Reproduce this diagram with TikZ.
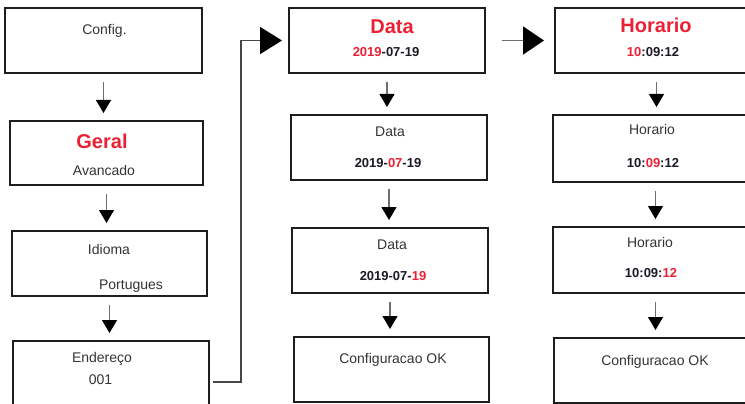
\documentclass[tikz,border=0pt]{standalone}
\usepackage{fontspec}
\setmainfont{Liberation Sans}
\usetikzlibrary{arrows.meta, calc}
\definecolor{cRed}{RGB}{236, 32, 52}
\definecolor{bBox}{RGB}{30, 30, 30}
\definecolor{tDark}{RGB}{51, 51, 51}
\definecolor{tNum}{RGB}{26, 26, 36}
\definecolor{lShaft}{RGB}{110, 110, 110}
\definecolor{lLink}{RGB}{70, 70, 70}
\newcommand{\hi}[1]{\textcolor{cRed}{#1}}

\begin{document}
\begin{tikzpicture}[
    x=1pt, y=-1pt,
    box/.style={
        draw=bBox,
        line width=2pt,
        inner sep=0pt
    },
    lbl/.style={anchor=base, inner sep=0pt, text=tDark, font=\fontsize{14}{16}\selectfont},
    num/.style={anchor=base, inner sep=0pt, text=tNum, font=\fontsize{13}{15}\selectfont\bfseries},
    head/.style={anchor=base, inner sep=0pt, text=cRed, font=\fontsize{20}{24}\selectfont\bfseries},
    down/.style={
        -{Triangle[length=13pt, width=15pt, color=black, fill=black]},
        line width=1.1pt, color=lShaft,
        shorten <=8pt, shorten >=7pt
    },
    link/.style={line width=1.6pt, color=lLink}
]

\clip (0,0) rectangle (745,404);

% left column
\node[box, minimum width=197pt, minimum height=65pt] (cfg) at (103.5,40.5) {};
\node[box, minimum width=193pt, minimum height=64pt] (geral) at (106.5,153) {};
\node[box, minimum width=195pt, minimum height=65pt] (idioma) at (109.5,263.5) {};
\node[box, minimum width=196pt, minimum height=82pt] (ender) at (111,382) {};

\node[lbl] (cfgT) at (104.5,35) {Config.};
\node[head] (geralT) at (102,148) {Geral};
\node[lbl] (avT) at (104,175) {Avancado};
\node[lbl] (idT) at (109,254) {Idioma};
\node[lbl] (ptT) at (131,289) {Portugues};
\node[lbl] (endT) at (102,362) {Endereço};
\node[lbl] (addrT) at (100.5,384) {001};

% middle column
\node[box, minimum width=196pt, minimum height=65pt] (data1) at (387,40.5) {};
\node[box, minimum width=196pt, minimum height=65pt] (data2) at (389,147.5) {};
\node[box, minimum width=196pt, minimum height=65pt] (data3) at (390,260.5) {};
\node[box, minimum width=195pt, minimum height=65pt] (okA) at (391.5,369.5) {};

\node[head] (dataT) at (392,34) {Data};
\node[num] (dA) at (386,57) {\hi{2019}-07-19};
\node[lbl] (dataL2) at (390,136) {Data};
\node[num] (dB) at (388,167) {2019-\hi{07}-19};
\node[lbl] (dataL3) at (392,249) {Data};
\node[num] (dC) at (393,280) {2019-07-\hi{19}};
\node[lbl] (okAT) at (393,363) {Configuracao OK};

% right column
\node[box, minimum width=195pt, minimum height=65pt] (hor1) at (652.5,40.5) {};
\node[box, minimum width=197pt, minimum height=67pt] (hor2) at (651.5,148.5) {};
\node[box, minimum width=197pt, minimum height=66pt] (hor3) at (651.5,260) {};
\node[box, minimum width=196pt, minimum height=65pt] (okB) at (652,370.5) {};

\node[head] (horT) at (656,33) {Horario};
\node[num] (tA) at (653,57) {\hi{10}:09:12};
\node[lbl] (horL2) at (652,135) {Horario};
\node[num] (tB) at (653,167) {10:\hi{09}:12};
\node[lbl] (horL3) at (650,247) {Horario};
\node[num] (tC) at (651,277) {10:09:\hi{12}};
\node[lbl] (okBT) at (655,365) {Configuracao OK};

% arrows
\draw[down] (cfg.south) -- (cfg.south |- geral.north);
\draw[down] (geral.south) -- (geral.south |- idioma.north);
\draw[down] (idioma.south) -- (idioma.south |- ender.north);
\draw[down] (data1.south) -- (data1.south |- data2.north);
\draw[down] (data2.south) -- (data2.south |- data3.north);
\draw[down] (data3.south) -- (data3.south |- okA.north);
\draw[down] ($(hor1.south)+(4,0)$) -- ($(hor1.south |- hor2.north)+(4,0)$);
\draw[down] ($(hor2.south)+(4,0)$) -- ($(hor2.south |- hor3.north)+(4,0)$);
\draw[down] ($(hor3.south)+(4,0)$) -- ($(hor3.south |- okB.north)+(4,0)$);

\draw[link, -{Triangle[length=22pt, width=27pt, color=black, fill=black]}, shorten <=3pt, shorten >=6pt]
    (ender.east) -- ++(31,0) |- (data1.west);
\draw[link, color=lShaft, -{Triangle[length=21pt, width=28pt, color=black, fill=black]}, shorten <=16pt, shorten >=10pt]
    (data1.east) -- (hor1.west);

\end{tikzpicture}
\end{document}
